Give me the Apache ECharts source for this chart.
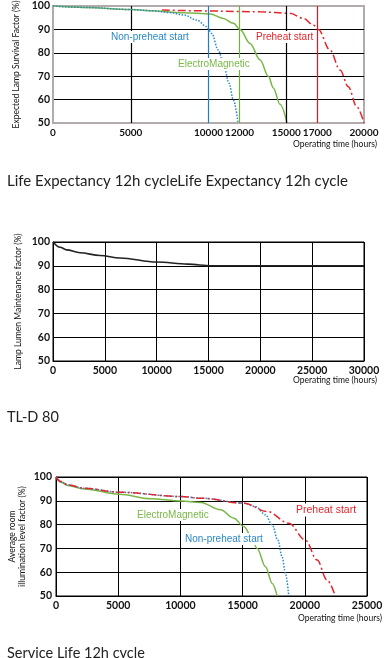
<!DOCTYPE html>
<html>
<head>
<meta charset="utf-8">
<script src="https://cdn.jsdelivr.net/npm/echarts@6/dist/echarts.min.js"></script>
<style>
html,body{margin:0;padding:0;background:#fff;}
#c{width:386px;height:658px;}
</style>
</head>
<body>
<div id="c"></div>
<script>
// ---------- Data ----------
// Chart 1: Life Expectancy 12h cycle (hours, survival %)
var lifeTickLabels = [0, 5000, 10000, 12000, 15000, 17000, 20000];
var lifeMarkerHours = [5000, 10000, 12000, 15000, 17000];
var lifeNonPreheat = [[0,100],[2000,99.4],[5000,98.5],[6240,98],[7500,97.2],[8400,96.2],[9240,94],[9880,91.2],[10200,88.3],[10630,81.2],[11000,74],[11320,67],[11600,59.8],[11900,50]];
var lifeElectroMagnetic = [[0,100],[2000,99.4],[5000,98.5],[6240,98],[8400,97.1],[10100,96.6],[10950,94.7],[11600,92.6],[12030,90],[12670,84],[13310,77],[13850,70],[14170,65],[14600,58],[15050,50]];
var lifePreheat = [[7000,98.3],[10000,97.9],[12000,97.6],[13300,97.5],[15240,96.9],[16100,94.7],[16740,91.9],[17060,90],[17810,81.2],[18460,72.6],[18990,65.5],[19530,57],[20000,50]];

// Chart 2: TL-D 80 lumen maintenance
var maintTickLabels = [0, 5000, 10000, 15000, 20000, 25000, 30000];
var maintFactor = [[0,100],[680,97.8],[1320,96.7],[2600,95.5],[4530,94.3],[6460,93.3],[10000,91.6],[13000,90.7],[15300,90],[30000,90]];

// Chart 3: Service Life 12h cycle
var serviceTickLabels = [0, 5000, 10000, 15000, 20000, 25000];
var servicePreheat = [[0,100],[400,98.1],[940,96.7],[2270,95.3],[5080,93.6],[10050,91.8],[11630,91.1],[15100,89],[16980,85.5],[18710,80.6],[20050,73.5],[20990,65.1],[21790,56.7],[22450,50]];
var serviceNonPreheat = [[0,100],[400,98.1],[940,96.7],[2270,95.3],[5080,93.6],[10050,91.8],[11630,91.1],[15100,89],[16040,87.6],[16840,84.1],[17380,79.9],[17830,73.5],[18180,66.5],[18440,59.5],[18710,50]];
var serviceElectroMagnetic = [[0,100],[400,97.8],[940,96.4],[2270,95],[5080,92.8],[7620,90.9],[10050,89.9],[11630,89.3],[13230,86.2],[14300,82.7],[15100,79.2],[15640,75.7],[16170,70],[16840,62.3],[17380,55.3],[17780,50]];

// ---------- Style ----------
var BLUE = '#2a88c8', GREEN = '#7ab648', RED = '#e4262c', GRAYB = '#b3abab';
var lifeMarkerColors = ['#000', '#1b7fc4', '#6fb23c', '#000', '#e3161e'];
var tickFont = {fontFamily: 'Lato', fontWeight: 'bold', fontSize: 10.5, color: '#111'};
var nameFont = {fontFamily: 'Lato', fontSize: 8.5, color: '#111'};
var titleFont = {fontFamily: 'Lato', fontWeight: 'normal', fontSize: 14.5, color: '#222'};

function lbl(text, x, y, color, size) {
  return {type: 'text', x: x, y: y, z: 100,
    style: {text: text, fill: color, font: (size || 10) + 'px "Liberation Sans", Arial, sans-serif',
      textAlign: 'left', textVerticalAlign: 'middle', backgroundColor: '#fff', padding: [1, 1]}};
}
function tickFmt(list) { return function (v) { return list.indexOf(v) >= 0 ? String(v) : ''; }; }

var option = {
  animation: false,
  backgroundColor: '#fff',
  title: [
    {text: 'Life Expectancy 12h cycleLife Expectancy 12h cycle', left: 2, top: 169, textStyle: Object.assign({}, titleFont, {fontSize: 15})},
    {text: 'TL-D 80', left: 2, top: 405, textStyle: titleFont},
    {text: 'Service Life 12h cycle', left: 2, top: 641, textStyle: titleFont}
  ],
  grid: [
    {left: 53, top: 6, width: 311, height: 117, show: true, borderColor: GRAYB, borderWidth: 2, backgroundColor: 'transparent', containLabel: false, outerBoundsMode: 'none'},
    {left: 53, top: 242, width: 311, height: 119, show: true, borderColor: '#000', borderWidth: 1, backgroundColor: 'transparent', containLabel: false, outerBoundsMode: 'none'},
    {left: 56, top: 477, width: 311, height: 119, show: true, borderColor: '#000', borderWidth: 1, backgroundColor: 'transparent', containLabel: false, outerBoundsMode: 'none'}
  ],
  xAxis: [
    {gridIndex: 0, type: 'value', min: 0, max: 20000, interval: 1000,
      name: 'Operating time (hours)', nameLocation: 'end', nameGap: 13, nameMoveOverlap: false,
      nameTextStyle: Object.assign({align: 'right', verticalAlign: 'top', padding: [17, 0, 0, 0]}, nameFont),
      axisLine: {show: true, lineStyle: {color: GRAYB, width: 2}}, axisTick: {show: false},
      axisLabel: Object.assign({margin: 5, formatter: tickFmt(lifeTickLabels)}, tickFont, {fontSize: 10}),
      splitLine: {show: false}},
    {gridIndex: 1, type: 'value', min: 0, max: 30000, interval: 5000,
      name: 'Operating time (hours)', nameLocation: 'end', nameGap: 13, nameMoveOverlap: false,
      nameTextStyle: Object.assign({align: 'right', verticalAlign: 'top', padding: [15, 0, 0, 0]}, nameFont),
      axisLine: {show: true, lineStyle: {color: '#000', width: 1}}, axisTick: {show: false},
      axisLabel: Object.assign({margin: 4, formatter: tickFmt(maintTickLabels)}, tickFont),
      splitLine: {show: true, lineStyle: {color: '#000', width: 1}}},
    {gridIndex: 2, type: 'value', min: 0, max: 25000, interval: 5000,
      name: 'Operating time (hours)', nameLocation: 'end', nameGap: 15, nameMoveOverlap: false,
      nameTextStyle: Object.assign({align: 'right', verticalAlign: 'top', padding: [18, 0, 0, 0]}, nameFont),
      axisLine: {show: true, lineStyle: {color: '#000', width: 1}}, axisTick: {show: false},
      axisLabel: Object.assign({margin: 4, formatter: tickFmt(serviceTickLabels)}, tickFont),
      splitLine: {show: true, lineStyle: {color: '#000', width: 1}}}
  ],
  yAxis: [
    {gridIndex: 0, type: 'value', min: 50, max: 100, interval: 10,
      name: 'Expected Lamp Survival Factor (%)', nameLocation: 'middle', nameGap: 32, nameRotate: 90, nameMoveOverlap: false,
      nameTextStyle: nameFont,
      axisLine: {show: true, lineStyle: {color: GRAYB, width: 2}}, axisTick: {show: false},
      axisLabel: Object.assign({margin: 3}, tickFont),
      splitLine: {show: true, lineStyle: {color: [GRAYB, '#000', '#000', '#000', '#000', GRAYB], width: 1}}},
    {gridIndex: 1, type: 'value', min: 50, max: 100, interval: 10,
      name: 'Lamp Lumen Maintenance factor (%)', nameLocation: 'middle', nameGap: 30, nameRotate: 90, nameMoveOverlap: false,
      nameTextStyle: nameFont,
      axisLine: {show: true, lineStyle: {color: '#000', width: 1}}, axisTick: {show: false},
      axisLabel: Object.assign({margin: 3}, tickFont),
      splitLine: {show: true, lineStyle: {color: '#000', width: 1}}},
    {gridIndex: 2, type: 'value', min: 50, max: 100, interval: 10,
      name: 'Average room\nillumination level factor (%)', nameLocation: 'middle', nameGap: 29, nameRotate: 90, nameMoveOverlap: false,
      nameTextStyle: Object.assign({lineHeight: 10}, nameFont),
      axisLine: {show: true, lineStyle: {color: '#000', width: 1}}, axisTick: {show: false},
      axisLabel: Object.assign({margin: 4}, tickFont),
      splitLine: {show: true, lineStyle: {color: '#000', width: 1}}}
  ],
  series: [
    {name: 'markers', type: 'line', xAxisIndex: 0, yAxisIndex: 0, data: [], z: 1, silent: true,
      markLine: {silent: true, symbol: 'none', label: {show: false}, animation: false,
        data: lifeMarkerHours.map(function (h, i) { return {xAxis: h, lineStyle: {color: lifeMarkerColors[i], width: 1.2, type: 'solid'}}; })}},
    {name: 'Preheat start', type: 'line', xAxisIndex: 0, yAxisIndex: 0, data: lifePreheat, showSymbol: false, smooth: 0.35, smoothMonotone: 'x',
      lineStyle: {color: RED, width: 1.5, type: [8, 3, 2, 3]}, z: 3},
    {name: 'ElectroMagnetic', type: 'line', xAxisIndex: 0, yAxisIndex: 0, data: lifeElectroMagnetic, showSymbol: false, smooth: 0.35, smoothMonotone: 'x',
      lineStyle: {color: GREEN, width: 1.5}, z: 4},
    {name: 'Non-preheat start', type: 'line', xAxisIndex: 0, yAxisIndex: 0, data: lifeNonPreheat, showSymbol: false, smooth: 0.35, smoothMonotone: 'x',
      lineStyle: {color: BLUE, width: 1.5, type: [1.5, 1.5]}, z: 5},

    {name: 'TL-D 80', type: 'line', xAxisIndex: 1, yAxisIndex: 1, data: maintFactor, showSymbol: false, smooth: 0.35, smoothMonotone: 'x',
      lineStyle: {color: '#222', width: 1.6}, z: 3},

    {name: 'ElectroMagnetic', type: 'line', xAxisIndex: 2, yAxisIndex: 2, data: serviceElectroMagnetic, showSymbol: false, smooth: 0.35, smoothMonotone: 'x',
      lineStyle: {color: GREEN, width: 1.5}, z: 3},
    {name: 'Non-preheat start', type: 'line', xAxisIndex: 2, yAxisIndex: 2, data: serviceNonPreheat, showSymbol: false, smooth: 0.35, smoothMonotone: 'x',
      lineStyle: {color: BLUE, width: 1.5, type: [1.5, 1.5]}, z: 4},
    {name: 'Preheat start', type: 'line', xAxisIndex: 2, yAxisIndex: 2, data: servicePreheat, showSymbol: false, smooth: 0.35, smoothMonotone: 'x',
      lineStyle: {color: RED, width: 1.5, type: [8, 3, 2, 3]}, z: 5}
  ],
  graphic: [
    lbl('Non-preheat start', 110, 37, BLUE, 10),
    lbl('Preheat start', 255, 37, RED, 10),
    lbl('ElectroMagnetic', 177, 64, GREEN, 10),
    lbl('Preheat start', 295, 510, RED, 10.5),
    lbl('ElectroMagnetic', 136, 515, GREEN, 10),
    lbl('Non-preheat start', 184, 539, BLUE, 10)
  ]
};

var chart = echarts.init(document.getElementById('c'), null, {renderer: 'canvas'});
chart.setOption(option);
</script>
</body>
</html>
